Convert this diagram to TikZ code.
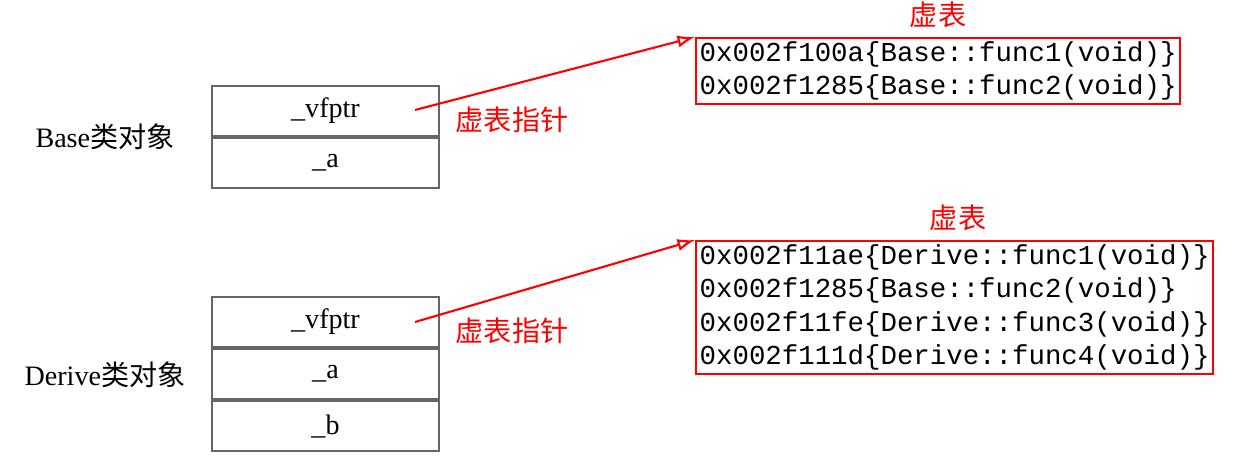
\documentclass[tikz,border=0pt]{standalone}
\usepackage{fontspec}
\setmainfont{Liberation Serif}
\newfontfamily\cjk{Noto Sans CJK SC}
\newfontfamily\mono{Liberation Mono}
\begin{document}
\begin{tikzpicture}[x=0.02cm,y=-0.02cm,
  cell/.style={draw=black!60,line width=1.2pt,minimum width=227*0.02cm,minimum height=50*0.02cm,inner sep=0pt,font=\fontsize{16}{18}\selectfont},
  vt/.style={draw=red,line width=1.3pt,inner sep=2pt,align=left,font=\mono\fontsize{15.6}{19}\selectfont},
  rl/.style={text=red,font=\cjk\fontsize{16}{18}\selectfont},
  arr/.style={red,line width=1.2pt,-{Latex[open,length=10pt,width=7pt]}}]
\usetikzlibrary{arrows.meta}
\useasboundingbox (0,0) rectangle (1246,457);
\node[cell] (b1) at (325.5,111) {\_vfptr};
\node[cell,anchor=north] (b2) at (b1.south) {\_a};
\node[font=\fontsize{16}{18}\selectfont] (bl) at (105,137) {Base{\cjk 类对象}};
\node[cell] (d1) at (325.5,322) {\_vfptr};
\node[cell,anchor=north] (d2) at (d1.south) {\_a};
\node[cell,anchor=north] (d3) at (d2.south) {\_b};
\node[font=\fontsize{16}{18}\selectfont] (dl) at (105,375) {Derive{\cjk 类对象}};
\node[vt,anchor=north west] (t1) at (695,37) {0x002f100a\{Base::func1(void)\}\\0x002f1285\{Base::func2(void)\}};
\node[vt,anchor=north west] (t2) at (695,240) {0x002f11ae\{Derive::func1(void)\}\\0x002f1285\{Base::func2(void)\}\\0x002f11fe\{Derive::func3(void)\}\\0x002f111d\{Derive::func4(void)\}};
\node[rl] (h1) at (938,15) {虚表};
\node[rl] (h2) at (958,218) {虚表};
\node[rl] (p1) at (512,120) {虚表指针};
\node[rl] (p2) at (512,331) {虚表指针};
\coordinate (s1) at (415,110);
\coordinate (s2) at (415,322);
\draw[arr] (s1) -- (t1.north west);
\draw[arr] (s2) -- (t2.north west);
\end{tikzpicture}
\end{document}
